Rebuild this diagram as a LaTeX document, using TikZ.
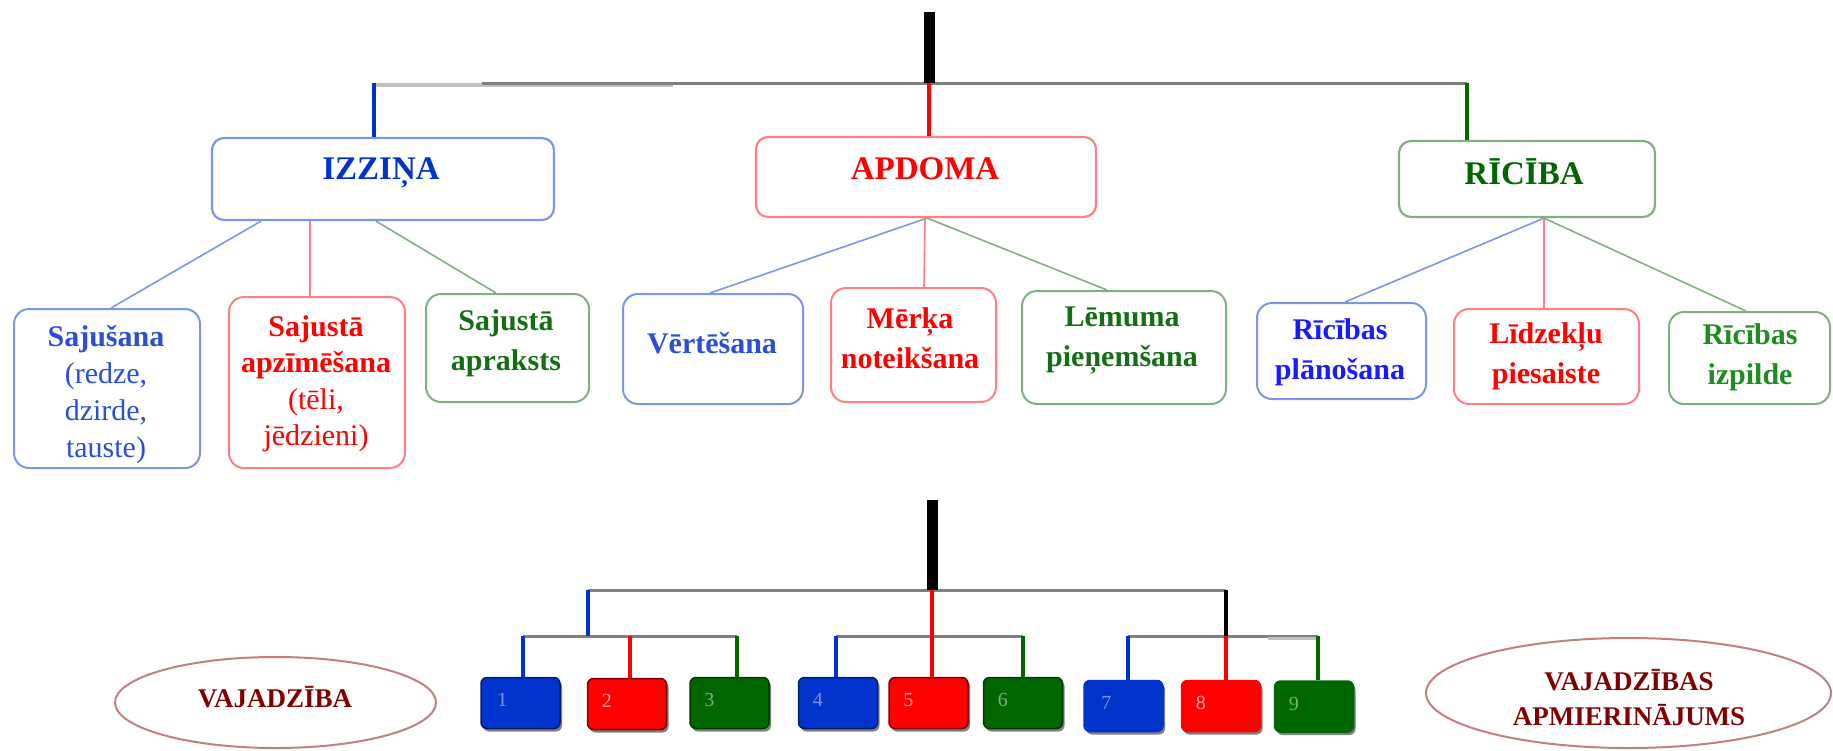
\documentclass[tikz,border=0pt]{standalone}
\usepackage{fontspec}
\setmainfont{Liberation Serif}
\usetikzlibrary{shapes.geometric,shadows}
\definecolor{bluebd}{RGB}{123,150,230}
\definecolor{redbd}{RGB}{255,128,128}
\definecolor{greenbd}{RGB}{128,176,128}
\definecolor{dblue}{RGB}{0,51,204}
\definecolor{dgreen}{RGB}{0,102,0}
\definecolor{pred}{RGB}{255,0,0}
\definecolor{busgray}{RGB}{128,128,128}
\definecolor{lgray}{RGB}{192,192,192}
\definecolor{ellbd}{RGB}{192,128,128}
\definecolor{elltxt}{RGB}{128,0,0}
\definecolor{t1blue}{RGB}{42,79,214}
\definecolor{t2blue}{RGB}{26,26,255}
\definecolor{tgreen}{RGB}{20,110,20}
\definecolor{tgreen2}{RGB}{30,140,30}
\definecolor{navy}{RGB}{0,30,110}
\definecolor{dred}{RGB}{128,0,0}
\definecolor{ddgreen}{RGB}{0,60,0}
\begin{document}
\begin{tikzpicture}[x=1pt,y=-1pt,
  hbox/.style={draw, line width=2.2pt, rounded corners=12pt, inner sep=0pt},
  sbox/.style={draw, line width=2pt, rounded corners=15pt, inner sep=0pt},
  htxt/.style={font=\fontsize{33}{40}\selectfont\bfseries, inner sep=0pt},
  stxt/.style={font=\fontsize{30}{40}\selectfont\bfseries, align=center, inner sep=0pt},
  conn/.style={line width=1.6pt},
  vert/.style={line width=4pt},
  bus/.style={draw=busgray, line width=3pt},
  nbox/.style={rounded corners=6pt, line width=1.5pt, minimum width=79pt, minimum height=51pt, inner sep=0pt,
    drop shadow={shadow xshift=2pt, shadow yshift=-3pt, fill=busgray, opacity=1}},
  ntxt/.style={font=\fontsize{20}{24}\selectfont, inner sep=0pt},
  ell/.style={ellipse, draw=ellbd, line width=2pt, inner sep=0pt},
  etxt/.style={font=\fontsize{27}{35}\selectfont\bfseries, text=elltxt, align=center, inner sep=0pt}
]
\useasboundingbox (0,0) rectangle (1833,750);

% ---------- top level boxes ----------
\node[hbox, draw=bluebd, minimum width=342pt, minimum height=82pt] (izz) at (383,179) {};
\node[hbox, draw=redbd, minimum width=340pt, minimum height=80pt] (apd) at (926,177) {};
\node[hbox, draw=greenbd, minimum width=256pt, minimum height=76pt] (ric) at (1527,179) {};
\node[htxt, text=dblue] (izzt) at (381,173) {IZZIŅA};
\node[htxt, text=pred] (apdt) at (925,169) {APDOMA};
\node[htxt, text=dgreen] (rict) at (1524,172) {RĪCĪBA};

% ---------- sub boxes ----------
\node[sbox, draw=bluebd, minimum width=186pt, minimum height=159pt] (s1) at (107,388.5) {};
\node[sbox, draw=redbd, minimum width=176pt, minimum height=171pt] (s2) at (317,382.5) {};
\node[sbox, draw=greenbd, minimum width=163pt, minimum height=108pt] (s3) at (507.5,348) {};
\node[sbox, draw=bluebd, minimum width=180pt, minimum height=110pt] (a1) at (713,349) {};
\node[sbox, draw=redbd, minimum width=165pt, minimum height=114pt] (a2) at (913.5,345) {};
\node[sbox, draw=greenbd, minimum width=204pt, minimum height=113pt] (a3) at (1124,347.5) {};
\node[sbox, draw=bluebd, minimum width=169pt, minimum height=96pt] (r1) at (1341.5,351) {};
\node[sbox, draw=redbd, minimum width=185pt, minimum height=95pt] (r2) at (1546.5,356.5) {};
\node[sbox, draw=greenbd, minimum width=161pt, minimum height=92pt] (r3) at (1749.5,358) {};

\node[stxt, text=t1blue, font=\fontsize{30}{37}\selectfont\bfseries] (s1t) at (106,395) {Sajušana\\{\mdseries (redze,}\\{\mdseries dzirde,}\\{\mdseries tauste)}};
\node[stxt, text=pred, font=\fontsize{30}{36.5}\selectfont\bfseries] (s2t) at (316,384) {Sajustā\\apzīmēšana\\{\mdseries (tēli,}\\{\mdseries jēdzieni)}};
\node[stxt, text=tgreen] (s3t) at (506,343) {Sajustā\\apraksts};
\node[stxt, text=t1blue] (a1t) at (712,343) {Vērtēšana};
\node[stxt, text=pred] (a2t) at (910,338) {Mērķa\\noteikšana};
\node[stxt, text=tgreen] (a3t) at (1122,341) {Lēmuma\\pieņemšana};
\node[stxt, text=t2blue] (r1t) at (1340,352) {Rīcības\\plānošana};
\node[stxt, text=pred] (r2t) at (1546,356) {Līdzekļu\\piesaiste};
\node[stxt, text=tgreen2] (r3t) at (1750,357) {Rīcības\\izpilde};

% ---------- top tree ----------
\coordinate (t0) at (929,12);
\coordinate (tb) at (929,83);
\coordinate (tL) at (374,83);
\coordinate (tM) at (482,83);
\coordinate (tLg) at (673,84.5);
\coordinate (tL2) at (374,84.5);
\coordinate (tR) at (1467,83);
\draw[lgray, line width=4pt] (tL2) -- (tLg);
\draw[bus] (tM) -- (tR);
\draw[black, line width=11pt] (t0) -- (tb);
\draw[vert, dblue] (tL) -- ([xshift=-9pt]izz.north);
\draw[vert, pred] (tb) -- ([xshift=3pt]apd.north);
\draw[vert, dgreen] (tR) -- ([xshift=-60pt]ric.north);

% ---------- connectors to sub boxes ----------
\draw[conn, bluebd] ([xshift=-122pt]izz.south) -- ([xshift=4pt]s1.north);
\draw[conn, redbd] ([xshift=-73pt]izz.south) -- ([xshift=-7pt]s2.north);
\draw[conn, greenbd] ([xshift=-7pt]izz.south) -- ([xshift=-11.5pt]s3.north);
\draw[conn, bluebd] ([xshift=1pt]apd.south) -- ([xshift=-3pt]a1.north);
\draw[conn, redbd] ([xshift=-1pt]apd.south) -- ([xshift=10.5pt]a2.north);
\draw[conn, greenbd] ([xshift=1pt]apd.south) -- ([xshift=-17pt]a3.north);
\draw[conn, bluebd] ([xshift=17pt]ric.south) -- ([xshift=3.5pt]r1.north);
\draw[conn, redbd] ([xshift=17pt]ric.south) -- ([xshift=-2.5pt]r2.north);
\draw[conn, greenbd] ([xshift=17pt]ric.south) -- ([xshift=-3.5pt]r3.north);

% ---------- bottom boxes ----------
\node[nbox, fill=dblue, draw=navy] (b1) at (520.5,703) {};
\node[nbox, fill=pred, draw=dred] (b2) at (627,704) {};
\node[nbox, fill=dgreen, draw=ddgreen] (b3) at (729.5,703) {};
\node[nbox, fill=dblue, draw=navy] (b4) at (838,703) {};
\node[nbox, fill=pred, draw=dred] (b5) at (928.5,703) {};
\node[nbox, fill=dgreen, draw=ddgreen] (b6) at (1023,703) {};
\node[nbox, fill=dblue, draw=dblue] (b7) at (1123.5,706) {};
\node[nbox, fill=pred, draw=pred] (b8) at (1221,706) {};
\node[nbox, fill=dgreen, draw=dgreen] (b9) at (1314,706.5) {};
\node[ntxt, text=bluebd] (n1) at ([xshift=22pt,yshift=3pt]b1.west) {1};
\node[ntxt, text=redbd!70] (n2) at ([xshift=20pt,yshift=3pt]b2.west) {2};
\node[ntxt, text=greenbd] (n3) at ([xshift=20pt,yshift=3pt]b3.west) {3};
\node[ntxt, text=bluebd] (n4) at ([xshift=20pt,yshift=3pt]b4.west) {4};
\node[ntxt, text=redbd!70] (n5) at ([xshift=20pt,yshift=3pt]b5.west) {5};
\node[ntxt, text=greenbd] (n6) at ([xshift=20pt,yshift=3pt]b6.west) {6};
\node[ntxt, text=bluebd] (n7) at ([xshift=23pt,yshift=3pt]b7.west) {7};
\node[ntxt, text=redbd!70] (n8) at ([xshift=20pt,yshift=3pt]b8.west) {8};
\node[ntxt, text=greenbd] (n9) at ([xshift=20pt,yshift=3pt]b9.west) {9};

% ---------- bottom tree ----------
\coordinate (u0) at (932,500);
\coordinate (uc) at (932,590);
\coordinate (uL) at (588,590);
\coordinate (uR) at (1226,590);
\coordinate (g1c) at (588,636);
\coordinate (j1) at (523,636);
\coordinate (j2) at (630,636);
\coordinate (j3) at (737,636);
\coordinate (j4) at (836,636);
\coordinate (j6) at (1023,636);
\coordinate (j7) at (1128,636);
\coordinate (j8) at (1226,636);
\coordinate (j9) at (1318,636);
\coordinate (jlg) at (1268,638);
\coordinate (j9b) at (1318,638);
\draw[bus] (uL) -- (uR);
\draw[bus] (j1) -- (j3);
\draw[bus] (j4) -- (j6);
\draw[bus] (j7) -- (j9);
\draw[lgray, line width=3pt] (jlg) -- (j9b);
\draw[black, line width=11pt] (u0) -- (uc);
\draw[black, line width=4pt] (uR) -- (j8);
\draw[vert, dblue] (uL) -- (g1c);
\draw[vert, pred] (uc) -- ([xshift=3.5pt]b5.north);
\draw[vert, dblue] (j1) -- ([xshift=2.5pt]b1.north);
\draw[vert, pred] (j2) -- ([xshift=3pt]b2.north);
\draw[vert, dgreen] (j3) -- ([xshift=7.5pt]b3.north);
\draw[vert, dblue] (j4) -- ([xshift=-2pt]b4.north);
\draw[vert, dgreen] (j6) -- (b6.north);
\draw[vert, dblue] (j7) -- ([xshift=4.5pt]b7.north);
\draw[vert, pred] (j8) -- ([xshift=5pt]b8.north);
\draw[vert, dgreen] (j9) -- ([xshift=4pt]b9.north);

% ---------- ellipses ----------
\node[ell, minimum width=321pt, minimum height=91pt] (e1) at (275.5,702.5) {};
\node[ell, minimum width=405pt, minimum height=110pt] (e2) at (1628.5,693) {};
\node[etxt] (e1t) at (275,697) {VAJADZĪBA};
\node[etxt] (e2t) at (1629,697.5) {VAJADZĪBAS\\APMIERINĀJUMS};
\end{tikzpicture}
\end{document}
